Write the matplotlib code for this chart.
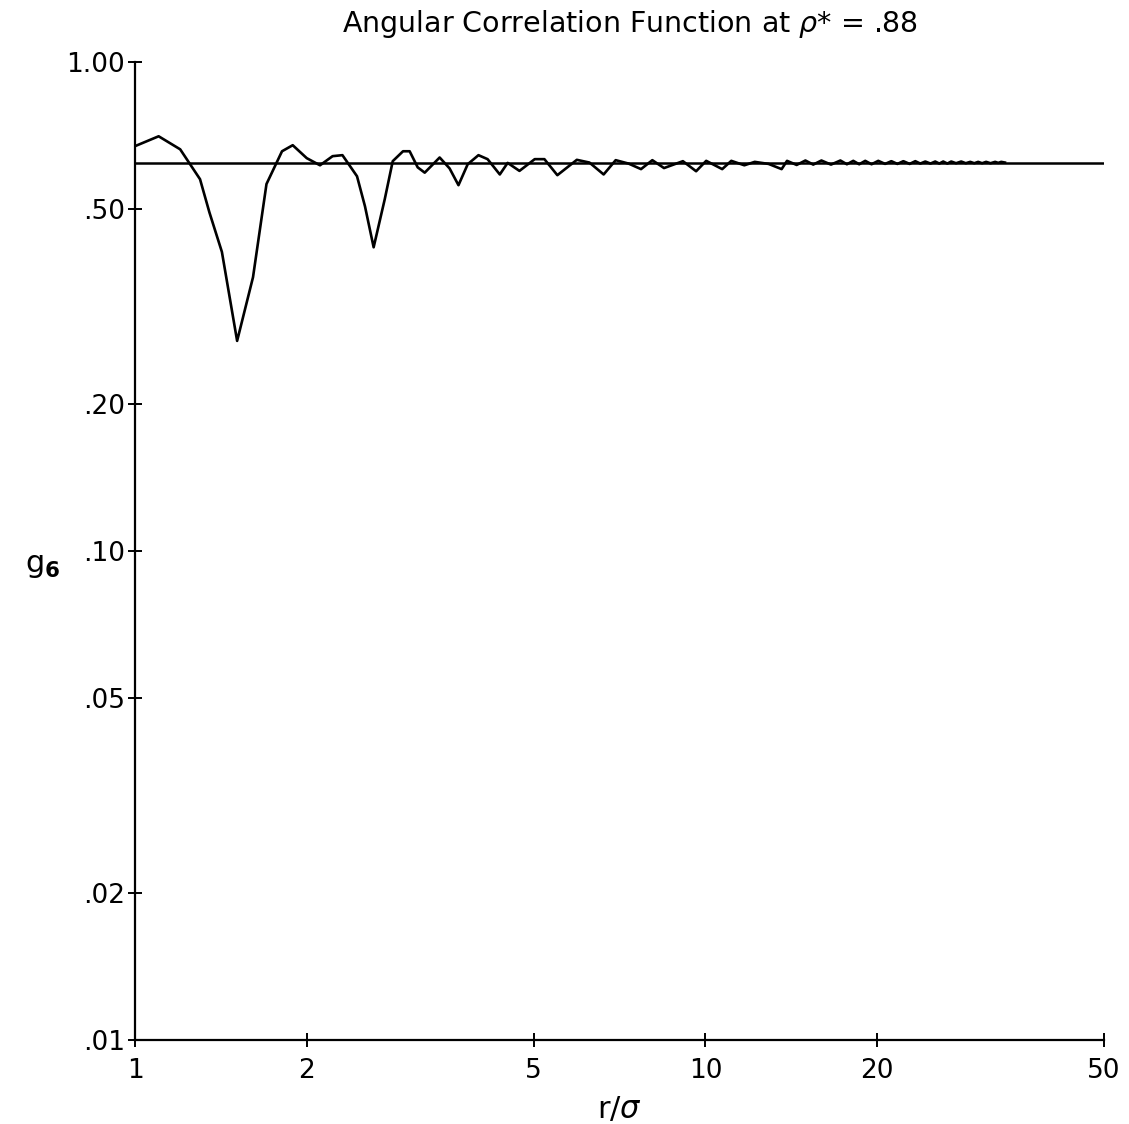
import matplotlib
matplotlib.use("Agg")
import matplotlib.pyplot as plt

# Angular correlation g6(r) at reduced density 0.88
r_sigma = [1.00, 1.10, 1.20, 1.30, 1.35, 1.42, 1.51, 1.61, 1.70, 1.81, 1.89,
           2.00, 2.11, 2.22, 2.31, 2.45, 2.53, 2.62, 2.74, 2.83, 2.95, 3.03,
           3.13, 3.22, 3.42, 3.56, 3.69, 3.83, 4.00, 4.15, 4.36, 4.50, 4.72,
           5.02, 5.22, 5.50, 5.95, 6.26, 6.63, 6.96, 7.33, 7.71, 8.07, 8.46,
           9.13, 9.63, 10.03, 10.70, 11.10, 11.70, 12.20, 12.90, 13.60,
           13.90, 14.45, 14.97, 15.45, 15.97, 16.60, 17.24, 17.70, 18.16,
           18.60, 19.06, 19.55, 20.09, 20.65, 21.18, 21.70, 22.23, 22.80,
           23.33, 23.80, 24.29, 24.80, 25.28, 25.70, 26.11, 26.55, 26.97,
           27.50, 28.08, 28.60, 29.12, 29.60, 30.07, 30.55, 31.05, 31.60,
           32.20, 32.60, 33.00, 33.50]
g6 = [0.673, 0.705, 0.663, 0.576, 0.493, 0.409, 0.269, 0.363, 0.563, 0.657, 0.676,
      0.636, 0.615, 0.642, 0.645, 0.584, 0.507, 0.418, 0.524, 0.627, 0.657, 0.657,
      0.609, 0.594, 0.638, 0.606, 0.560, 0.618, 0.645, 0.633, 0.589, 0.622, 0.599,
      0.633, 0.633, 0.587, 0.631, 0.623, 0.589, 0.630, 0.620, 0.604, 0.630, 0.607,
      0.627, 0.598, 0.628, 0.604, 0.628, 0.615, 0.625, 0.619, 0.604,
      0.628, 0.616, 0.629, 0.617, 0.629, 0.617, 0.629, 0.618, 0.628,
      0.618, 0.628, 0.618, 0.628, 0.619, 0.627, 0.619, 0.627, 0.619,
      0.627, 0.620, 0.626, 0.620, 0.626, 0.620, 0.626, 0.620, 0.626,
      0.621, 0.626, 0.621, 0.625, 0.621, 0.625, 0.621, 0.625, 0.621,
      0.625, 0.622, 0.625, 0.623]

# Long-range (ordered) limit
g6_limit = 0.623

x_ticks = [1, 2, 5, 10, 20, 50]
x_tick_labels = ["1", "2", "5", "10", "20", "50"]
y_ticks = [1.00, 0.50, 0.20, 0.10, 0.05, 0.02, 0.01]
y_tick_labels = ["1.00", ".50", ".20", ".10", ".05", ".02", ".01"]

plt.rcParams["font.family"] = ["DejaVu Sans"]

fig = plt.figure(figsize=(11.29, 11.24), dpi=100)
ax = fig.add_axes([0.1196, 0.0747, 0.8584, 0.8701])

ax.set_xscale("log")
ax.set_yscale("log")
ax.set_xlim(1, 50)
ax.set_ylim(0.01, 1.0)

ax.axhline(g6_limit, color="black", lw=1.8, zorder=2)
ax.plot(r_sigma, g6, color="black", lw=1.9, zorder=3)

ax.spines["top"].set_visible(False)
ax.spines["right"].set_visible(False)
for s in ("left", "bottom"):
    ax.spines[s].set_linewidth(1.6)

ax.minorticks_off()
ax.set_xticks(x_ticks)
ax.set_xticklabels(x_tick_labels)
ax.set_yticks(y_ticks)
ax.set_yticklabels(y_tick_labels)
ax.tick_params(axis="both", which="major", direction="inout", length=10,
               width=1.4, labelsize=19)
ax.tick_params(axis="x", pad=8)
ax.tick_params(axis="y", pad=2)

ax.set_xlabel(r"r/$\sigma$", fontsize=22, labelpad=8)
ax.set_ylabel(r"g$_\mathbf{6}$", fontsize=22, rotation=0, labelpad=40)
ax.yaxis.set_label_coords(-0.095, 0.47)

fig.text(0.558, 0.979, r"Angular Correlation Function at $\rho$* = .88",
         ha="center", va="center", fontsize=20.5)

fig.savefig("out.png", dpi=100)
